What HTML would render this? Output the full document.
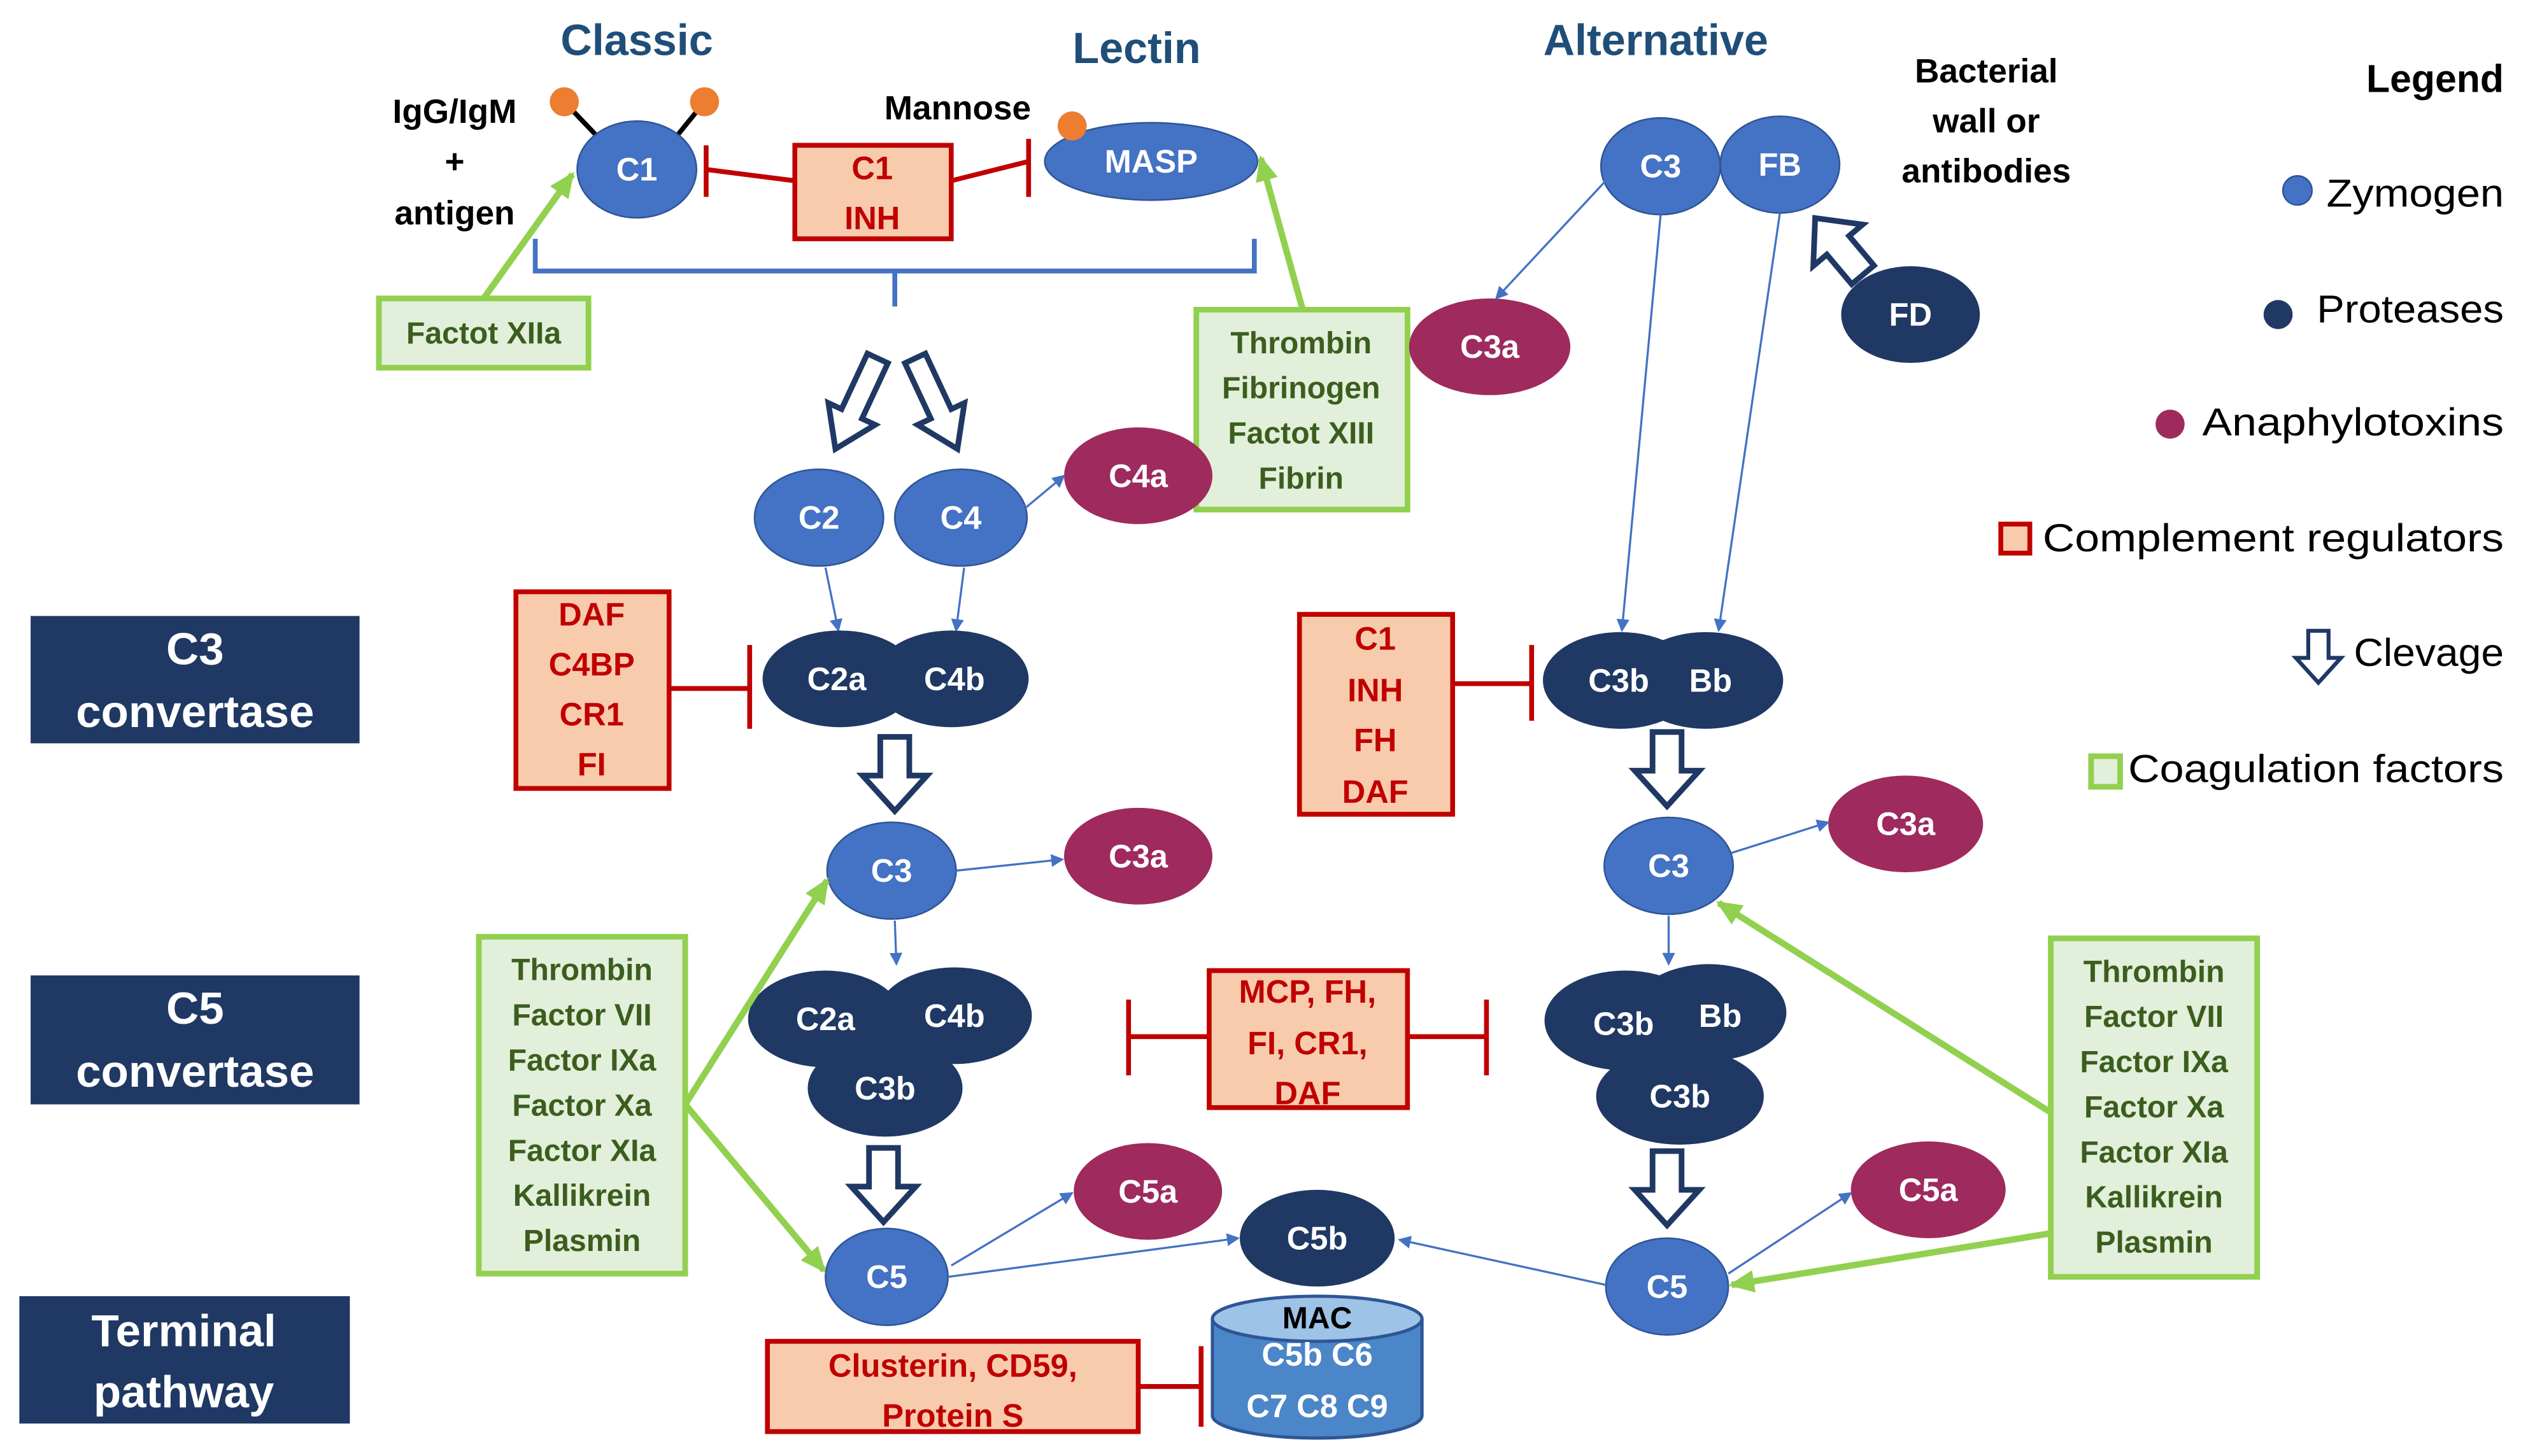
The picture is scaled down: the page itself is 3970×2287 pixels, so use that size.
<!DOCTYPE html>
<html><head><meta charset="utf-8"><style>
html,body{margin:0;padding:0;background:#fff;}
svg{display:block;}
text{font-family:"Liberation Sans",sans-serif;}
.w{fill:#fff;font-weight:bold;font-size:20px;text-anchor:middle;dominant-baseline:central;}
.r{fill:#c00000;font-weight:bold;font-size:20px;text-anchor:middle;}
.g{fill:#3b5e1e;font-weight:bold;font-size:19px;text-anchor:middle;}
.k{fill:#000;font-weight:bold;font-size:21px;text-anchor:middle;}
.t{fill:#1f4e79;font-weight:bold;font-size:27px;text-anchor:middle;}
.lg{fill:#000;font-size:24px;text-anchor:start;}
.z{fill:#4472c4;stroke:#2f5597;stroke-width:1;}
.p{fill:#1f3864;}
.a{fill:#9e2a5e;}
.rb{fill:#f8cbad;stroke:#c00000;stroke-width:3;}
.gb{fill:#e2efda;stroke:#92d050;stroke-width:3.5;}
.rl{stroke:#c00000;stroke-width:3;fill:none;}
.bl{stroke:#4472c4;stroke-width:1.3;fill:none;marker-end:url(#ab);}
.gl{stroke:#92d050;stroke-width:4;fill:none;marker-end:url(#ag);}
.ha{fill:#fff;stroke:#1f3864;stroke-width:3.5;stroke-linejoin:miter;}
</style></head><body>
<svg width="3970" height="2287" viewBox="0 0 1568 903" xmlns="http://www.w3.org/2000/svg">
<defs>
<marker id="ab" markerWidth="8" markerHeight="8" refX="7" refY="4" orient="auto" markerUnits="userSpaceOnUse"><path d="M0,0 L8,4 L0,8 z" fill="#4472c4"/></marker>
<marker id="ag" markerWidth="16" markerHeight="14" refX="14" refY="7" orient="auto" markerUnits="userSpaceOnUse"><path d="M0,0 L16,7 L0,14 z" fill="#92d050"/></marker>
<g id="harrow"><path class="ha" d="M-9,-24 L9,-24 L9,0 L20,0 L0,22 L-20,0 L-9,0 z"/></g>
<g id="harrow2"><path class="ha" d="M-7,-34 L7,-34 L7,4 L16,4 L0,28 L-16,4 L-7,4 z"/></g>
</defs>

<!-- titles -->
<text class="t" x="395" y="34">Classic</text>
<text class="t" x="705" y="39">Lectin</text>
<text class="t" x="1027" y="34">Alternative</text>
<text class="k" x="282" y="76">IgG/IgM</text>
<text class="k" x="282" y="107">+</text>
<text class="k" x="282" y="139">antigen</text>
<text class="k" x="594" y="74">Mannose</text>
<text class="k" x="1232" y="51">Bacterial</text>
<text class="k" x="1232" y="82">wall or</text>
<text class="k" x="1232" y="113">antibodies</text>

<!-- left labels -->
<rect x="19" y="382" width="204" height="79" fill="#1f3864"/>
<text x="121" y="412" fill="#fff" font-weight="bold" font-size="28" text-anchor="middle">C3</text>
<text x="121" y="451" fill="#fff" font-weight="bold" font-size="28" text-anchor="middle">convertase</text>
<rect x="19" y="605" width="204" height="80" fill="#1f3864"/>
<text x="121" y="635" fill="#fff" font-weight="bold" font-size="28" text-anchor="middle">C5</text>
<text x="121" y="674" fill="#fff" font-weight="bold" font-size="28" text-anchor="middle">convertase</text>
<rect x="12" y="804" width="205" height="79" fill="#1f3864"/>
<text x="114" y="835" fill="#fff" font-weight="bold" font-size="28" text-anchor="middle">Terminal</text>
<text x="114" y="873" fill="#fff" font-weight="bold" font-size="28" text-anchor="middle">pathway</text>

<!-- Classic top -->
<line x1="350" y1="63" x2="370" y2="84" stroke="#000" stroke-width="3"/>
<line x1="437" y1="63" x2="420" y2="84" stroke="#000" stroke-width="3"/>
<circle cx="350" cy="63" r="9" fill="#ed7d31"/>
<circle cx="437" cy="63" r="9" fill="#ed7d31"/>
<ellipse class="z" cx="395" cy="105" rx="37" ry="30"/><text class="w" x="395" y="105">C1</text>
<rect class="rb" x="493" y="90" width="97" height="58"/>
<text class="r" x="541" y="111">C1</text><text class="r" x="541" y="142">INH</text>
<path class="rl" d="M438,105 L493,112 M438,90 L438,122 M590,112 L638,100 M638,86 L638,122"/>
<ellipse class="z" cx="714" cy="100" rx="66" ry="24"/><text class="w" x="714" y="100">MASP</text>
<circle cx="665" cy="78" r="9" fill="#ed7d31"/>
<path d="M332,148 L332,168 L778,168 L778,148 M555,168 L555,190" stroke="#4472c4" stroke-width="3" fill="none"/>
<rect class="gb" x="235" y="185" width="130" height="43"/><text class="g" x="300" y="213">Factot XIIa</text>
<line class="gl" x1="300" y1="185" x2="355" y2="108"/>
<rect class="gb" x="742" y="192" width="131" height="124"/>
<text class="g" x="807" y="219">Thrombin</text><text class="g" x="807" y="247">Fibrinogen</text><text class="g" x="807" y="275">Factot XIII</text><text class="g" x="807" y="303">Fibrin</text>
<line class="gl" x1="808" y1="192" x2="782" y2="98"/>

<use href="#harrow2" transform="translate(530,253) rotate(25)"/>
<use href="#harrow2" transform="translate(582,253) rotate(-25)"/>
<ellipse class="z" cx="508" cy="321" rx="40" ry="30"/><text class="w" x="508" y="321">C2</text>
<ellipse class="z" cx="596" cy="321" rx="41" ry="30"/><text class="w" x="596" y="321">C4</text>
<ellipse class="a" cx="706" cy="295" rx="46" ry="30"/><text class="w" x="706" y="295">C4a</text>
<line class="bl" x1="636" y1="315" x2="660" y2="295"/>
<line class="bl" x1="512" y1="352" x2="520" y2="391"/>
<line class="bl" x1="598" y1="352" x2="593" y2="391"/>
<ellipse class="p" cx="521" cy="421" rx="48" ry="30"/>
<ellipse class="p" cx="590" cy="421" rx="48" ry="30"/>
<text class="w" x="519" y="421">C2a</text><text class="w" x="592" y="421">C4b</text>
<rect class="rb" x="320" y="367" width="95" height="122"/>
<text class="r" x="367" y="388">DAF</text><text class="r" x="367" y="419">C4BP</text><text class="r" x="367" y="450">CR1</text><text class="r" x="367" y="481">FI</text>
<path class="rl" d="M415,427 L465,427 M465,400 L465,452"/>
<use href="#harrow" transform="translate(555,481)"/>
<ellipse class="z" cx="553" cy="540" rx="40" ry="30"/><text class="w" x="553" y="540">C3</text>
<ellipse class="a" cx="706" cy="531" rx="46" ry="30"/><text class="w" x="706" y="531">C3a</text>
<line class="bl" x1="593" y1="540" x2="659" y2="533"/>
<line class="bl" x1="555" y1="571" x2="556" y2="598"/>
<ellipse class="p" cx="512" cy="632" rx="48" ry="30"/>
<ellipse class="p" cx="592" cy="630" rx="48" ry="30"/>
<ellipse class="p" cx="549" cy="675" rx="48" ry="30"/>
<text class="w" x="512" y="632">C2a</text><text class="w" x="592" y="630">C4b</text><text class="w" x="549" y="675">C3b</text>
<use href="#harrow" transform="translate(548,736)"/>
<ellipse class="z" cx="550" cy="792" rx="38" ry="30"/><text class="w" x="550" y="792">C5</text>
<ellipse class="a" cx="712" cy="739" rx="46" ry="30"/><text class="w" x="712" y="739">C5a</text>
<ellipse class="p" cx="817" cy="768" rx="48" ry="30"/><text class="w" x="817" y="768">C5b</text>
<line class="bl" x1="590" y1="785" x2="665" y2="740"/>
<line class="bl" x1="588" y1="792" x2="768" y2="768"/>
<rect class="gb" x="297" y="581" width="128" height="209"/>
<text class="g" x="361" y="608">Thrombin</text><text class="g" x="361" y="636">Factor VII</text><text class="g" x="361" y="664">Factor IXa</text><text class="g" x="361" y="692">Factor Xa</text><text class="g" x="361" y="720">Factor XIa</text><text class="g" x="361" y="748">Kallikrein</text><text class="g" x="361" y="776">Plasmin</text>
<line class="gl" x1="425" y1="685" x2="513" y2="546"/>
<line class="gl" x1="425" y1="685" x2="511" y2="788"/>
<rect class="rb" x="750" y="602" width="123" height="85"/>
<text class="r" x="811" y="622">MCP, FH,</text><text class="r" x="811" y="654">FI, CR1,</text><text class="r" x="811" y="685">DAF</text>
<path class="rl" d="M700,643 L750,643 M700,620 L700,667 M873,643 L922,643 M922,620 L922,667"/>
<rect class="rb" x="476" y="832" width="230" height="56"/>
<text class="r" x="591" y="854">Clusterin,  CD59,</text><text class="r" x="591" y="885">Protein S</text>
<path class="rl" d="M706,860 L745,860 M745,835 L745,885"/>
<!-- MAC -->
<path d="M752,818 L752,878 A65,14 0 0 0 882,878 L882,818" fill="#4a86c8" stroke="#2f5597" stroke-width="2"/>
<ellipse cx="817" cy="818" rx="65" ry="14" fill="#9dc3e6" stroke="#2f5597" stroke-width="2"/>
<text x="817" y="824" fill="#000" font-weight="bold" font-size="19" text-anchor="middle">MAC</text>
<text x="817" y="847" fill="#fff" font-weight="bold" font-size="20" text-anchor="middle">C5b C6</text>
<text x="817" y="879" fill="#fff" font-weight="bold" font-size="20" text-anchor="middle">C7 C8 C9</text>

<!-- Alternative -->
<ellipse class="z" cx="1030" cy="103" rx="37" ry="30"/><text class="w" x="1030" y="103">C3</text>
<ellipse class="z" cx="1104" cy="102" rx="37" ry="30"/><text class="w" x="1104" y="102">FB</text>
<ellipse class="a" cx="924" cy="215" rx="50" ry="30"/><text class="w" x="924" y="215">C3a</text>
<line class="bl" x1="996" y1="112" x2="928" y2="185"/>
<ellipse class="p" cx="1185" cy="195" rx="43" ry="30"/><text class="w" x="1185" y="195">FD</text>
<use href="#harrow" transform="translate(1140,152) rotate(140)"/>
<line class="bl" x1="1030" y1="133" x2="1006" y2="391"/>
<line class="bl" x1="1104" y1="132" x2="1066" y2="391"/>
<rect class="rb" x="806" y="381" width="95" height="124"/>
<text class="r" x="853" y="403">C1</text><text class="r" x="853" y="435">INH</text><text class="r" x="853" y="466">FH</text><text class="r" x="853" y="498">DAF</text>
<path class="rl" d="M901,424 L950,424 M950,400 L950,447"/>
<ellipse class="p" cx="1005" cy="422" rx="48" ry="30"/>
<ellipse class="p" cx="1058" cy="422" rx="48" ry="30"/>
<text class="w" x="1004" y="422">C3b</text><text class="w" x="1061" y="422">Bb</text>
<use href="#harrow" transform="translate(1034,478)"/>
<ellipse class="z" cx="1035" cy="537" rx="40" ry="30"/><text class="w" x="1035" y="537">C3</text>
<ellipse class="a" cx="1182" cy="511" rx="48" ry="30"/><text class="w" x="1182" y="511">C3a</text>
<line class="bl" x1="1074" y1="529" x2="1134" y2="510"/>
<line class="bl" x1="1035" y1="568" x2="1035" y2="598"/>
<ellipse class="p" cx="1008" cy="633" rx="50" ry="31"/>
<ellipse class="p" cx="1060" cy="628" rx="48" ry="30"/>
<ellipse class="p" cx="1042" cy="680" rx="52" ry="30"/>
<text class="w" x="1007" y="635">C3b</text><text class="w" x="1067" y="630">Bb</text><text class="w" x="1042" y="680">C3b</text>
<use href="#harrow" transform="translate(1034,738)"/>
<ellipse class="z" cx="1034" cy="798" rx="38" ry="30"/><text class="w" x="1034" y="798">C5</text>
<ellipse class="a" cx="1196" cy="738" rx="48" ry="30"/><text class="w" x="1196" y="738">C5a</text>
<line class="bl" x1="1072" y1="790" x2="1148" y2="740"/>
<line class="bl" x1="996" y1="797" x2="868" y2="769"/>
<rect class="gb" x="1272" y="582" width="128" height="210"/>
<text class="g" x="1336" y="609">Thrombin</text><text class="g" x="1336" y="637">Factor VII</text><text class="g" x="1336" y="665">Factor IXa</text><text class="g" x="1336" y="693">Factor Xa</text><text class="g" x="1336" y="721">Factor XIa</text><text class="g" x="1336" y="749">Kallikrein</text><text class="g" x="1336" y="777">Plasmin</text>
<line class="gl" x1="1272" y1="690" x2="1066" y2="560"/>
<line class="gl" x1="1272" y1="765" x2="1074" y2="797"/>

<!-- Legend -->
<text x="1553" y="57" fill="#000" font-weight="bold" font-size="24" text-anchor="end">Legend</text>
<circle cx="1425" cy="118" r="9" class="z"/><text class="lg" x="1443" y="128" textLength="110" lengthAdjust="spacingAndGlyphs">Zymogen</text>
<circle cx="1413" cy="195" r="9" class="p"/><text class="lg" x="1437" y="200" textLength="116" lengthAdjust="spacingAndGlyphs">Proteases</text>
<circle cx="1346" cy="263" r="9" class="a"/><text class="lg" x="1366" y="270" textLength="187" lengthAdjust="spacingAndGlyphs">Anaphylotoxins</text>
<rect x="1241" y="325" width="18" height="18" class="rb"/><text class="lg" x="1267" y="342" textLength="286" lengthAdjust="spacingAndGlyphs">Complement regulators</text>
<use href="#harrow" transform="translate(1438,408) scale(0.7)"/><text class="lg" x="1460" y="413" textLength="93" lengthAdjust="spacingAndGlyphs">Clevage</text>
<rect x="1297" y="469" width="18" height="19" class="gb"/><text class="lg" x="1320" y="485" textLength="233" lengthAdjust="spacingAndGlyphs">Coagulation factors</text>
</svg>
</body></html>
